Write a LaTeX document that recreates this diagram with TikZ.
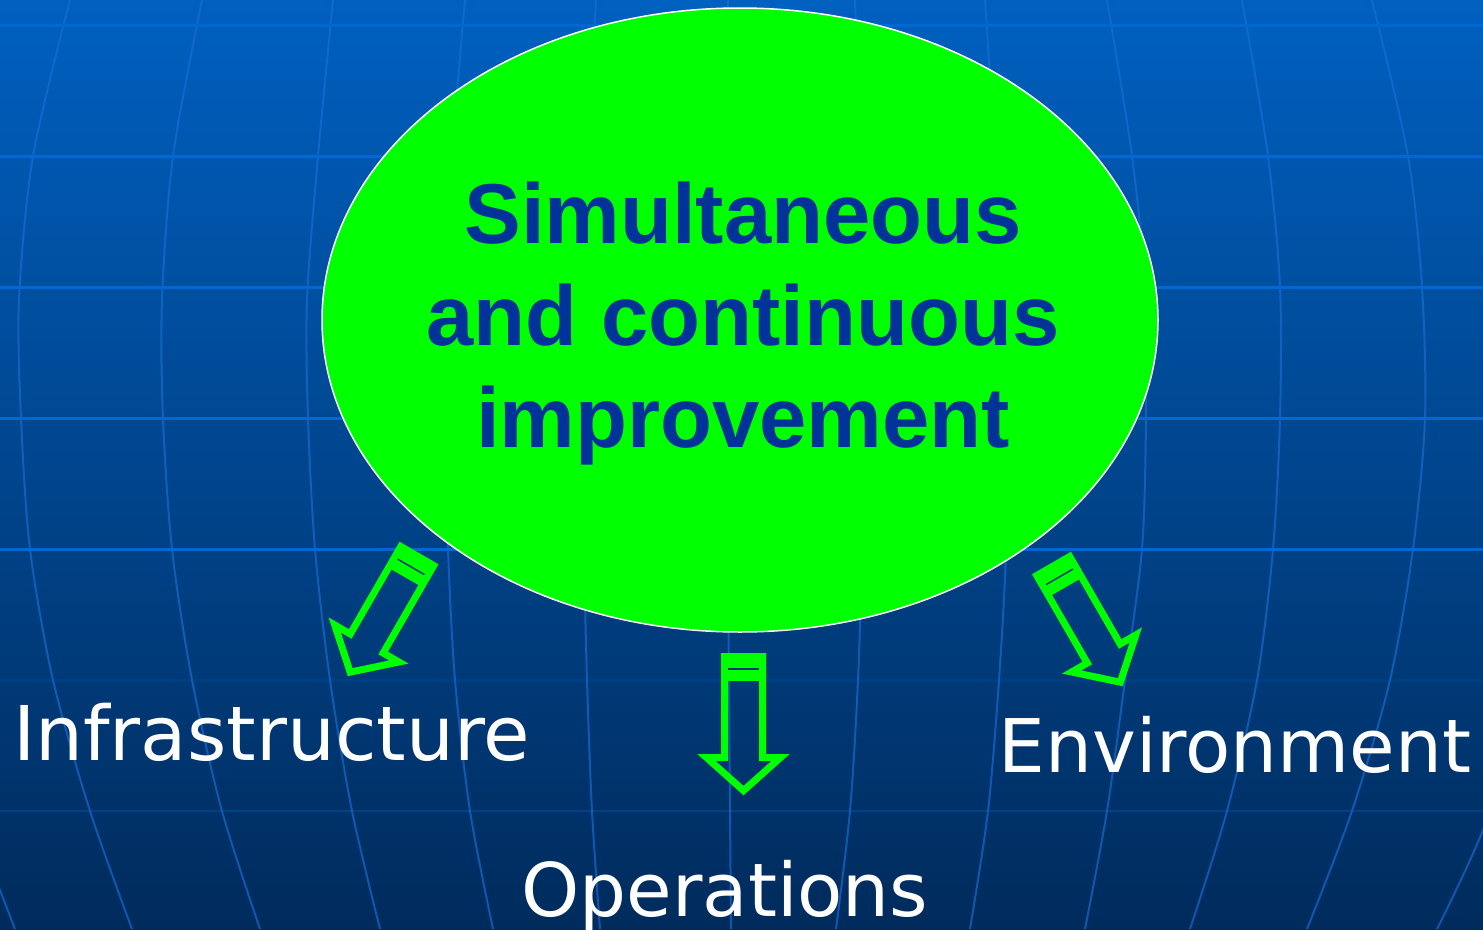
\documentclass[tikz,border=0pt]{standalone}
\usepackage{fontspec}
\usetikzlibrary{shapes.geometric}
\newfontfamily\headfont{Liberation Sans}
\newfontfamily\labelfont{DejaVu Sans}
\definecolor{bgtop}{RGB}{0,96,192}
\definecolor{bgmid}{RGB}{0,72,144}
\definecolor{bgbot}{RGB}{0,43,92}
\definecolor{gridh}{RGB}{0,104,210}
\definecolor{gridv}{RGB}{25,110,215}
\definecolor{arrowgreen}{RGB}{0,255,0}
\definecolor{headblue}{RGB}{0,51,153}
\definecolor{bandline}{RGB}{0,58,120}
\tikzset{
  hline/.style={gridh, line width=3pt},
  vline/.style={gridv, opacity=0.65, line width=2pt},
  coreshape/.style={ellipse, draw=white, line width=1.5pt, fill=arrowgreen,
    minimum width=836pt, minimum height=624pt, inner sep=0pt},
  headtext/.style={anchor=base, inner sep=0pt, text=headblue,
    font=\headfont\bfseries\fontsize{85}{101}\selectfont},
  labeltext/.style={anchor=base, inner sep=0pt, text=white,
    font=\labelfont\fontsize{74}{88}\selectfont},
  blockarrow/.pic={
    \fill[arrowgreen] (-19,3.5) rectangle (19,28);
    \draw[arrowgreen, line width=7pt, line join=miter]
      (-19,3.5) -- (19,3.5) -- (19,104.5) -- (37,104.5) -- (0,137.6)
      -- (-37,104.5) -- (-19,104.5) -- cycle;
    \draw[bandline, line width=1.5pt] (-15.5,16) -- (15.5,16);
  }
}
\begin{document}
\begin{tikzpicture}[x=1pt, y=-1pt]
\useasboundingbox (0,0) rectangle (1483,929);
\begin{scope}
\clip (0,0) rectangle (1483,929);
\shade[top color=bgtop, middle color=bgmid, bottom color=bgbot] (0,0) rectangle (1483,929);
% meridians
\draw[vline] plot[smooth] coordinates {(-40,780) (-30,811) (0,890) (15,929)};
\draw[vline] plot[smooth] coordinates {(70,0) (33,156) (19,300) (21,418) (30,549) (53,680) (90,811) (132,929)};
\draw[vline] plot[smooth] coordinates {(202,0) (173,156) (162,300) (163,418) (172,549) (192,680) (222,811) (260,929)};
\draw[vline] plot[smooth] coordinates {(333,0) (318,156) (307,300) (308,418) (315,549) (330,680) (352,811) (380,929)};
\draw[vline] plot[smooth] coordinates {(465,0) (452,156) (445,300) (445,418) (448,549) (455,680) (470,811) (493,929)};
\draw[vline] plot[smooth] coordinates {(596,0) (588,156) (583,300) (583,418) (584,549) (587,680) (592,811) (600,929)};
\draw[vline] plot[smooth] coordinates {(728,0) (728,300) (728,549) (729,680) (730,811) (731,929)};
\draw[vline] plot[smooth] coordinates {(855,0) (860,156) (863,300) (863,418) (862,549) (858,680) (850,811) (836,929)};
\draw[vline] plot[smooth] coordinates {(985,0) (995,156) (1003,300) (1005,418) (1006,549) (999,680) (988,811) (970,929)};
\draw[vline] plot[smooth] coordinates {(1107,0) (1132,156) (1145,287) (1146,418) (1142,549) (1125,680) (1107,811) (1085,929)};
\draw[vline] plot[smooth] coordinates {(1242,0) (1268,156) (1280,287) (1280,418) (1273,549) (1257,680) (1227,811) (1190,929)};
\draw[vline] plot[smooth] coordinates {(1372,0) (1408,156) (1422,287) (1425,418) (1413,549) (1390,680) (1352,811) (1307,929)};
\draw[vline] plot[smooth] coordinates {(1515,680) (1490,811) (1437,929)};
% parallels
\foreach \yy in {25,156,287,418,549} {\draw[hline] (0,\yy) -- (1483,\yy);}
\draw[hline, opacity=0.12] (0,680) -- (1483,680);
\draw[hline, opacity=0.3, line width=2pt] (0,811) -- (1483,811);
\end{scope}
% central ellipse
\node[coreshape] (core) at (740,320) {};
\node[headtext] (h1) at (743,243) {Simultaneous};
\node[headtext] (h2) at (743,345) {and continuous};
\node[headtext] (h3) at (743,447) {improvement};
% arrows
\pic[rotate=-30] (arrL) at (419,553) {blockarrow};
\pic (arrM) at (743.5,653) {blockarrow};
\pic[rotate=30] (arrR) at (1051.5,563) {blockarrow};
% labels
\node[labeltext, font=\labelfont\fontsize{75.5}{88}\selectfont] (infra) at (271.5,760) {Infrastructure};
\node[labeltext] (oper) at (725,916) {Operations};
\node[labeltext] (envi) at (1235,772) {Environment};
\end{tikzpicture}
\end{document}
